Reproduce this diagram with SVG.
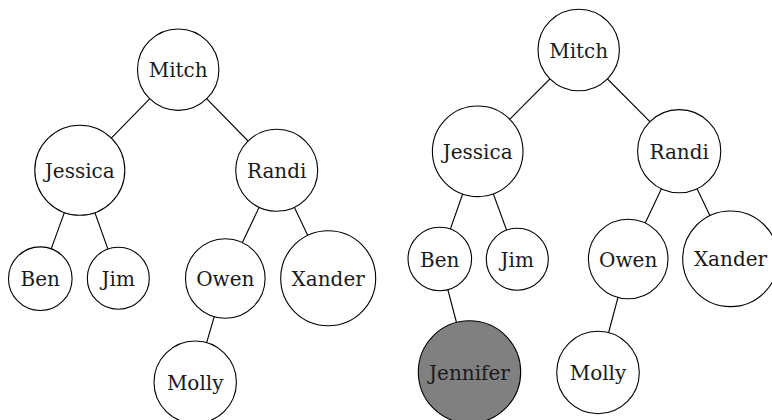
<svg xmlns="http://www.w3.org/2000/svg" width="772" height="420" viewBox="0 0 772 420">
<style>
.n{fill:#fff;stroke:#000;stroke-width:1.1}
.g{fill:#808080;stroke:#000;stroke-width:1.1}
.e{stroke:#000;stroke-width:1.1;fill:none}
.t{font-family:'DejaVu Serif','Liberation Serif',serif;font-size:20px;text-anchor:middle;fill:#1a1a1a}
</style>
<rect width="772" height="420" fill="#fff"/>
<g id="edges">
<line class="e" x1="178.2" y1="69.7" x2="79.8" y2="170.3"/>
<line class="e" x1="178.2" y1="69.7" x2="276.7" y2="170.3"/>
<line class="e" x1="79.8" y1="170.3" x2="40.3" y2="278.7"/>
<line class="e" x1="79.8" y1="170.3" x2="118.3" y2="278.3"/>
<line class="e" x1="276.7" y1="170.3" x2="225.3" y2="278.5"/>
<line class="e" x1="276.7" y1="170.3" x2="328.2" y2="278.3"/>
<line class="e" x1="225.3" y1="278.5" x2="195.2" y2="382.2"/>
<line class="e" x1="578.7" y1="50" x2="477.7" y2="151.3"/>
<line class="e" x1="578.7" y1="50" x2="679.2" y2="151.2"/>
<line class="e" x1="477.7" y1="151.3" x2="439.8" y2="259"/>
<line class="e" x1="477.7" y1="151.3" x2="517.3" y2="259.2"/>
<line class="e" x1="679.2" y1="151.2" x2="628.2" y2="259"/>
<line class="e" x1="679.2" y1="151.2" x2="730.5" y2="258.8"/>
<line class="e" x1="439.8" y1="259" x2="469.5" y2="372"/>
<line class="e" x1="628.2" y1="259" x2="598" y2="372.5"/>
</g>
<g id="L_Mitch"><circle class="n" cx="178.2" cy="69.7" r="40.7"/><text class="t" x="178.2" y="77.2">Mitch</text></g>
<g id="L_Jessica"><circle class="n" cx="79.8" cy="170.3" r="45"/><text class="t" x="79.8" y="177.8">Jessica</text></g>
<g id="L_Randi"><circle class="n" cx="276.7" cy="170.3" r="41"/><text class="t" x="276.7" y="177.8">Randi</text></g>
<g id="L_Ben"><circle class="n" cx="40.3" cy="278.7" r="31.8"/><text class="t" x="40.3" y="286.2">Ben</text></g>
<g id="L_Jim"><circle class="n" cx="118.3" cy="278.3" r="31"/><text class="t" x="118.3" y="285.8">Jim</text></g>
<g id="L_Owen"><circle class="n" cx="225.3" cy="278.5" r="39.8"/><text class="t" x="225.3" y="286">Owen</text></g>
<g id="L_Xander"><circle class="n" cx="328.2" cy="278.3" r="47.5"/><text class="t" x="328.2" y="285.8">Xander</text></g>
<g id="L_Molly"><circle class="n" cx="195.2" cy="382.2" r="41.2"/><text class="t" x="195.2" y="389.7">Molly</text></g>
<g id="R_Mitch"><circle class="n" cx="578.7" cy="50" r="40.7"/><text class="t" x="578.7" y="57.5">Mitch</text></g>
<g id="R_Jessica"><circle class="n" cx="477.7" cy="151.3" r="45.3"/><text class="t" x="477.7" y="158.8">Jessica</text></g>
<g id="R_Randi"><circle class="n" cx="679.2" cy="151.2" r="41.6"/><text class="t" x="679.2" y="158.7">Randi</text></g>
<g id="R_Ben"><circle class="n" cx="439.8" cy="259" r="31.8"/><text class="t" x="439.8" y="266.5">Ben</text></g>
<g id="R_Jim"><circle class="n" cx="517.3" cy="259.2" r="31"/><text class="t" x="517.3" y="266.7">Jim</text></g>
<g id="R_Owen"><circle class="n" cx="628.2" cy="259" r="39.8"/><text class="t" x="628.2" y="266.5">Owen</text></g>
<g id="R_Xander"><circle class="n" cx="730.5" cy="258.8" r="47.8"/><text class="t" x="730.5" y="266.3">Xander</text></g>
<g id="R_Jennifer"><circle class="g" cx="469.5" cy="372" r="51.2"/><text class="t" x="469.5" y="379.5">Jennifer</text></g>
<g id="R_Molly"><circle class="n" cx="598" cy="372.5" r="41.3"/><text class="t" x="598" y="380">Molly</text></g>
</svg>
